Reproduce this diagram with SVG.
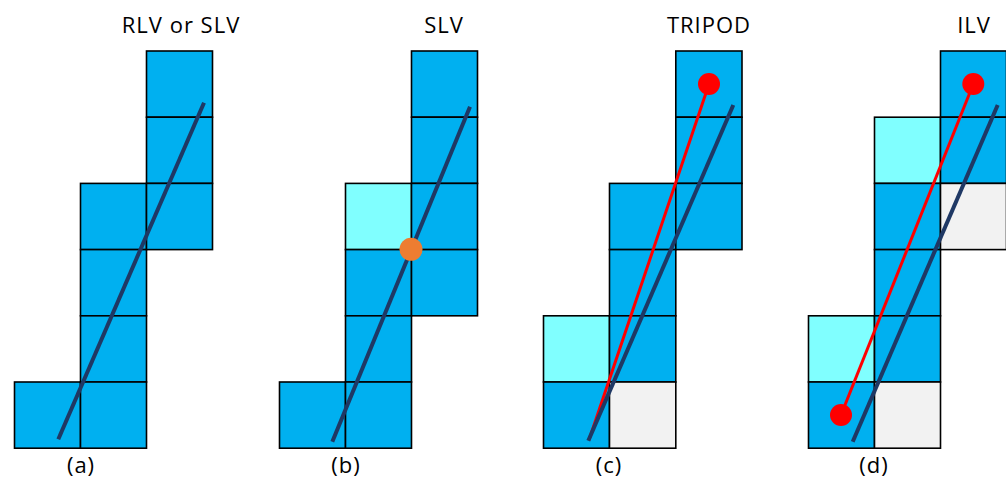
<svg xmlns="http://www.w3.org/2000/svg" width="1006" height="486" viewBox="0 0 1006 486">
<style>
.c{stroke:#000;stroke-width:1.6}
.b{fill:#00B0F0}
.l{fill:#80FFFF}
.g{fill:#F2F2F2}
.ray{stroke:#1F3864;stroke-width:4;fill:none}
.red{stroke:#FF0000;stroke-width:3;fill:none}
.t{font-family:"Open Sans","Liberation Sans",Arial,sans-serif;font-size:22px;letter-spacing:1px;fill:#000;text-anchor:middle}
</style>
<rect width="1006" height="486" fill="#fff"/>
<g id="panel-a">
<rect class="c b" x="14.5" y="382" width="66" height="66.2"/>
<rect class="c b" x="80.5" y="183.4" width="66" height="66.2"/>
<rect class="c b" x="80.5" y="249.6" width="66" height="66.2"/>
<rect class="c b" x="80.5" y="315.8" width="66" height="66.2"/>
<rect class="c b" x="80.5" y="382" width="66" height="66.2"/>
<rect class="c b" x="146.5" y="51" width="66" height="66.2"/>
<rect class="c b" x="146.5" y="117.2" width="66" height="66.2"/>
<rect class="c b" x="146.5" y="183.4" width="66" height="66.2"/>
<text class="t" x="181" y="33">RLV or SLV</text>
<text class="t" x="81" y="473">(a)</text>
</g>
<g id="panel-b">
<rect class="c b" x="279.5" y="382" width="66" height="66.2"/>
<rect class="c l" x="345.5" y="183.4" width="66" height="66.2"/>
<rect class="c b" x="345.5" y="249.6" width="66" height="66.2"/>
<rect class="c b" x="345.5" y="315.8" width="66" height="66.2"/>
<rect class="c b" x="345.5" y="382" width="66" height="66.2"/>
<rect class="c b" x="411.5" y="51" width="66" height="66.2"/>
<rect class="c b" x="411.5" y="117.2" width="66" height="66.2"/>
<rect class="c b" x="411.5" y="183.4" width="66" height="66.2"/>
<rect class="c b" x="411.5" y="249.6" width="66" height="66.2"/>
<text class="t" x="444" y="33">SLV</text>
<text class="t" x="346" y="473">(b)</text>
</g>
<g id="panel-c">
<rect class="c l" x="543.5" y="315.8" width="66" height="66.2"/>
<rect class="c b" x="543.5" y="382" width="66" height="66.2"/>
<rect class="c b" x="609.5" y="183.4" width="66.3" height="66.2"/>
<rect class="c b" x="609.5" y="249.6" width="66.3" height="66.2"/>
<rect class="c b" x="609.5" y="315.8" width="66.3" height="66.2"/>
<rect class="c g" x="609.5" y="382" width="66.3" height="66.2"/>
<rect class="c b" x="675.8" y="51" width="66.2" height="66.2"/>
<rect class="c b" x="675.8" y="117.2" width="66.2" height="66.2"/>
<rect class="c b" x="675.8" y="183.4" width="66.2" height="66.2"/>
<text class="t" x="709" y="33">TRIPOD</text>
<text class="t" x="609" y="473">(c)</text>
</g>
<g id="panel-d">
<rect class="c l" x="808.5" y="315.8" width="66" height="66.2"/>
<rect class="c b" x="808.5" y="382" width="66" height="66.2"/>
<rect class="c l" x="874.5" y="117.2" width="66" height="66.2"/>
<rect class="c b" x="874.5" y="183.4" width="66" height="66.2"/>
<rect class="c b" x="874.5" y="249.6" width="66" height="66.2"/>
<rect class="c b" x="874.5" y="315.8" width="66" height="66.2"/>
<rect class="c g" x="874.5" y="382" width="66" height="66.2"/>
<rect class="c b" x="940.5" y="51" width="66" height="66.2"/>
<rect class="c b" x="940.5" y="117.2" width="66" height="66.2"/>
<rect class="c g" x="940.5" y="183.4" width="66" height="66.2"/>
<text class="t" x="974" y="33">ILV</text>
<text class="t" x="874" y="473">(d)</text>
</g>
<g id="connectors">
<line class="ray" x1="58.3" y1="439.3" x2="204" y2="102.7"/>
<line class="ray" x1="332.3" y1="441.7" x2="470" y2="106.7"/>
<line class="red" x1="709" y1="84" x2="589" y2="440"/>
<line class="ray" x1="588.3" y1="440.7" x2="733.3" y2="105"/>
<line class="red" x1="973.3" y1="84" x2="841" y2="415"/>
<line class="ray" x1="852.7" y1="441.7" x2="997.7" y2="105"/>
<circle cx="411" cy="249.3" r="11.5" fill="#ED7D31"/>
<circle cx="709" cy="84" r="11" fill="#FF0000"/>
<circle cx="973.3" cy="84" r="11" fill="#FF0000"/>
<circle cx="841" cy="415" r="11" fill="#FF0000"/>
</g>
</svg>
